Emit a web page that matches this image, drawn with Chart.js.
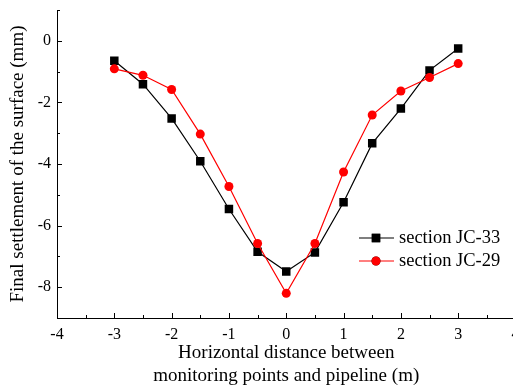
<!DOCTYPE html>
<html>
<head>
<meta charset="utf-8">
<script src="https://cdn.jsdelivr.net/npm/chart.js@4.4.0/dist/chart.umd.min.js"></script>
<style>
  html,body{margin:0;padding:0;background:#fff;overflow:hidden;}
  #wrap{width:530px;height:388px;}
</style>
</head>
<body>
<div id="wrap"><canvas id="chart"></canvas></div>
<script>
// data
const distances = [-3,-2.5,-2,-1.5,-1,-0.5,0,0.5,1,1.5,2,2.5,3];
const jc33 = [-0.65,-1.41,-2.52,-3.91,-5.46,-6.85,-7.49,-6.87,-5.24,-3.33,-2.2,-0.96,-0.25];
const jc29 = [-0.91,-1.12,-1.58,-3.03,-4.73,-6.58,-8.2,-6.58,-4.26,-2.41,-1.63,-1.19,-0.74];
const xTicks = [-4,-3,-2,-1,0,1,2,3,4];
const yTicks = [-8,-6,-4,-2,0];
const labels = ['section JC-33','section JC-29'];

const serif = '"Liberation Serif"';

// inward tick marks, major + minor
const innerTicks = {
  id:'innerTicks',
  afterDraw(chart){
    const ctx = chart.ctx, a = chart.chartArea;
    const xs = chart.scales.x, ys = chart.scales.y;
    ctx.save();
    ctx.strokeStyle = '#000';
    ctx.lineWidth = 1;
    ctx.beginPath();
    for(let v=xs.min; v<=xs.max+1e-9; v+=0.5){
      const px = Math.round(xs.getPixelForValue(v))+0.5;
      const len = Number.isInteger(v) ? 5 : 3;
      ctx.moveTo(px, a.bottom); ctx.lineTo(px, a.bottom-len);
    }
    for(let v=ys.min; v<=ys.max+1e-9; v+=1){
      const py = Math.round(ys.getPixelForValue(v))+0.5;
      const len = (v%2===0) ? 5 : 3;
      ctx.moveTo(a.left, py); ctx.lineTo(a.left+len, py);
    }
    ctx.stroke();
    ctx.restore();
  }
};

// legend with line + marker, like the original
const lineLegend = {
  id:'lineLegend',
  afterDraw(chart){
    const ctx = chart.ctx;
    const rows = [chart.data.datasets[1], chart.data.datasets[0]];
    ctx.save();
    rows.forEach((ds,i)=>{
      const y = 238 + i*23;
      ctx.strokeStyle = ds.borderColor;
      ctx.lineWidth = 1.2;
      ctx.beginPath(); ctx.moveTo(359,y); ctx.lineTo(394,y); ctx.stroke();
      Chart.helpers.drawPoint(ctx,{pointStyle:ds.pointStyle,radius:ds.pointRadius,borderWidth:0},376,y);
      ctx.fillStyle = ds.pointBackgroundColor;
      ctx.fill();
      ctx.fillStyle = '#000';
      ctx.font = '18.5px ' + serif;
      ctx.textBaseline = 'middle';
      ctx.fillText(ds.label, 399, y);
    });
    ctx.restore();
  }
};

new Chart(document.getElementById('chart'),{
  type:'line',
  data:{
    datasets:[
      {label:labels[1], data:distances.map((x,i)=>({x:x,y:jc29[i]})), borderColor:'#ff0000', backgroundColor:'#ff0000',
       pointBackgroundColor:'#ff0000', pointBorderWidth:0, pointStyle:'circle', pointRadius:4.5, borderWidth:1.2, tension:0, order:0},
      {label:labels[0], data:distances.map((x,i)=>({x:x,y:jc33[i]})), borderColor:'#000000', backgroundColor:'#000000',
       pointBackgroundColor:'#000000', pointBorderWidth:0, pointStyle:'rect', pointRadius:6, borderWidth:1.2, tension:0, order:1}
    ]
  },
  options:{
    responsive:true,
    maintainAspectRatio:false,
    animation:false,
    events:[],
    layout:{padding:{left:0,right:14.5,top:10,bottom:0}},
    plugins:{legend:{display:false},tooltip:{enabled:false}},
    scales:{
      x:{
        type:'linear', min:-4, max:4,
        afterBuildTicks:(s)=>{ s.ticks = xTicks.map(v=>({value:v})); },
        afterFit:(s)=>{ s.height = 70; s.paddingLeft = 0; s.paddingRight = 0; },
        grid:{display:false, drawTicks:false},
        border:{display:true, color:'#000', width:1},
        ticks:{color:'#000', padding:7, maxRotation:0, font:{family:serif,size:16}},
        title:{display:true, text:['Horizontal distance between','monitoring points and pipeline (m)'],
               color:'#000', font:{family:serif,size:19,lineHeight:1.22}, padding:{top:0,bottom:0}}
      },
      y:{
        type:'linear', min:-9, max:1,
        afterBuildTicks:(s)=>{ s.ticks = yTicks.map(v=>({value:v})); },
        afterFit:(s)=>{ s.width = 57; s.paddingTop = 0; s.paddingBottom = 0; },
        grid:{display:false, drawTicks:false},
        border:{display:true, color:'#000', width:1},
        ticks:{color:'#000', padding:6, font:{family:serif,size:16}},
        title:{display:true, text:'Final settlement of the surface (mm)',
               color:'#000', font:{family:serif,size:19,lineHeight:1.2}, padding:{top:7,bottom:0}}
      }
    }
  },
  plugins:[innerTicks, lineLegend]
});
</script>
</body>
</html>
